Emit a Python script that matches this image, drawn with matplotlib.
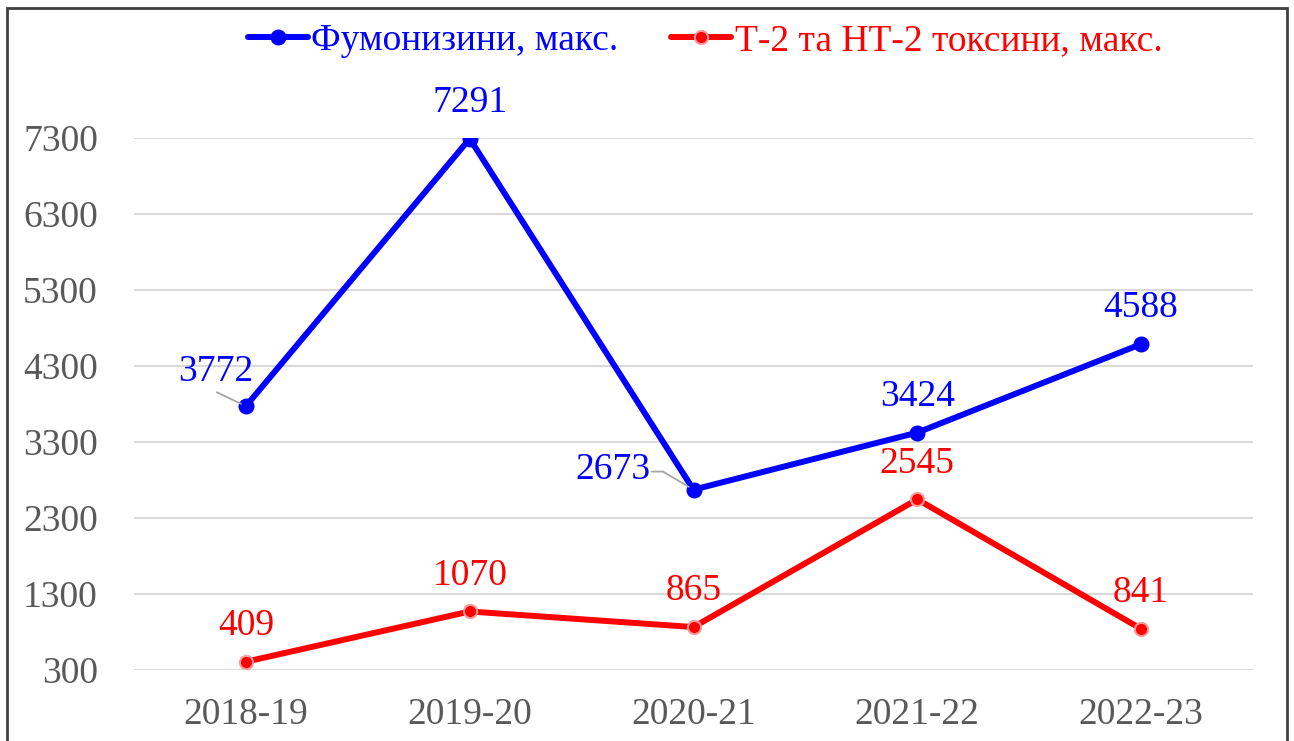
import matplotlib.pyplot as plt
from matplotlib.patches import Rectangle
from matplotlib.transforms import offset_copy

plt.rcParams['font.family'] = ['Liberation Serif', 'DejaVu Serif']

seasons = ["2018-19", "2019-20", "2020-21", "2021-22", "2022-23"]
fumonisins = [3772, 7291, 2673, 3424, 4588]
t2_ht2 = [409, 1070, 865, 2545, 841]
y_ticks = [300, 1300, 2300, 3300, 4300, 5300, 6300, 7300]

blue = "#0000ff"
red = "#ff0000"
gray_text = "#595959"
lead = "#a6a6a6"

fig = plt.figure(figsize=(12.94, 7.41), dpi=100)
ax = fig.add_axes([134 / 1294, 1 - 670 / 741, 1119 / 1294, 532 / 741])

x = list(range(len(seasons)))
ax.plot(x, fumonisins, color=blue, linewidth=4.3, marker="o", markersize=10.5,
        markerfacecolor=blue, markeredgecolor=blue, label="Фумонизини, макс.",
        solid_capstyle="round", zorder=3)
ax.plot(x, t2_ht2, color=red, linewidth=4.3, marker="o", markersize=9.5,
        markerfacecolor=red, markeredgecolor="#ff9a9a", markeredgewidth=1.5,
        label="Т-2 та НТ-2 токсини, макс.", solid_capstyle="round", zorder=3)

ax.set_xlim(-0.5, len(seasons) - 0.5)
ax.set_ylim(300, 7300)

# подписи значений
fs = 27
for i, v in enumerate(fumonisins):
    if i == 0:
        off = (-22, 25)
    elif i == 2:
        off = (-58, 14)
    else:
        off = (0, 26)
    ax.annotate(str(v), (i, v), xytext=off, textcoords="offset points",
                ha="center", va="center", color=blue, fontsize=fs)
for i, v in enumerate(t2_ht2):
    ax.annotate(str(v), (i, v), xytext=(0, 26), textcoords="offset points",
                ha="center", va="center", color=red, fontsize=fs)

# выноски
ax.annotate("", xy=(0, fumonisins[0]), xytext=(-21, 10), textcoords="offset points",
            arrowprops=dict(arrowstyle="-", color=lead, lw=1.3, shrinkA=0, shrinkB=4))
elbow = offset_copy(ax.transData, fig=fig, x=-22, y=13, units="points")
ax.annotate("", xy=(2, fumonisins[2]), xytext=(-22, 13), textcoords="offset points",
            arrowprops=dict(arrowstyle="-", color=lead, lw=1.3, shrinkA=0, shrinkB=4))
ax.annotate("", xy=(2, fumonisins[2]), xycoords=elbow, xytext=(-8, 0),
            textcoords="offset points",
            arrowprops=dict(arrowstyle="-", color=lead, lw=1.3, shrinkA=0, shrinkB=0))

ax.set_yticks(y_ticks)
ax.set_xticks(x)
ax.set_xticklabels(seasons)
ax.tick_params(axis="both", length=0, labelsize=fs, colors=gray_text)
ax.tick_params(axis="y", pad=26)
ax.tick_params(axis="x", pad=20)
ax.grid(axis="y", color="#d9d9d9", linewidth=1.5)
ax.set_axisbelow(True)
for s in ax.spines.values():
    s.set_visible(False)

leg = fig.legend(loc="center", bbox_to_anchor=(0.545, 1 - 41 / 741), ncol=2,
                 frameon=False, fontsize=fs, handlelength=1.6, handletextpad=0.1,
                 columnspacing=1.4)
for txt, c in zip(leg.get_texts(), [blue, red]):
    txt.set_color(c)

fig.patches.append(Rectangle((7 / 1294, -0.02), 1280 / 1294, 1.02 - 8 / 741,
                             transform=fig.transFigure, fill=False,
                             edgecolor="#404040", linewidth=2))

fig.savefig("out.png", dpi=100)
